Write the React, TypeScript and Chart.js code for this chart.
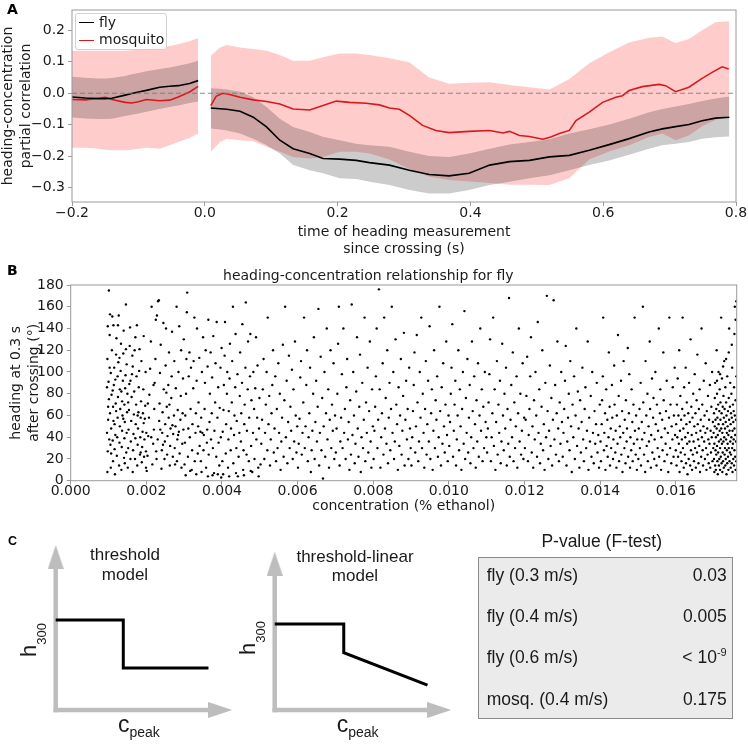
import React, { useEffect, useRef } from 'react';
import { Chart, registerables } from 'chart.js';

Chart.register(...registerables);

const MPL = 'DejaVu Sans';
const ARIAL = 'Liberation Sans';

// ---------------- Panel A data ----------------
const tPre = [-0.2, -0.18, -0.16, -0.15, -0.14, -0.12, -0.11, -0.10, -0.088, -0.068, -0.053, -0.04, -0.023, -0.01];
const flyPre = [-0.012, -0.015, -0.017, -0.017, -0.016, -0.006, -0.001, 0.004, 0.009, 0.019, 0.022, 0.024, 0.031, 0.040];
const flyPreUpper = [0.052, 0.049, 0.047, 0.047, 0.048, 0.055, 0.060, 0.064, 0.070, 0.077, 0.082, 0.087, 0.095, 0.103];
const flyPreLower = [-0.077, -0.080, -0.082, -0.082, -0.081, -0.072, -0.068, -0.064, -0.059, -0.050, -0.044, -0.039, -0.031, -0.026];
const mosqPre = [-0.020, -0.021, -0.016, -0.013, -0.020, -0.029, -0.031, -0.027, -0.020, -0.024, -0.022, -0.012, 0.004, 0.022];
const mosqPreUpper = [0.135, 0.135, 0.135, 0.135, 0.135, 0.135, 0.136, 0.138, 0.141, 0.145, 0.150, 0.155, 0.165, 0.175];
const mosqPreLower = [-0.173, -0.173, -0.176, -0.179, -0.181, -0.181, -0.179, -0.176, -0.173, -0.176, -0.165, -0.155, -0.142, -0.128];

const tPost = [0.009, 0.023, 0.033, 0.053, 0.073, 0.093, 0.113, 0.133, 0.158, 0.178, 0.203, 0.228, 0.248, 0.278, 0.308, 0.338, 0.368, 0.398, 0.429, 0.459, 0.489, 0.519, 0.549, 0.579, 0.609, 0.639, 0.669, 0.689, 0.709, 0.729, 0.749, 0.769, 0.79];
const flyPost = [-0.047, -0.049, -0.051, -0.057, -0.076, -0.107, -0.149, -0.176, -0.191, -0.207, -0.209, -0.213, -0.220, -0.228, -0.244, -0.258, -0.262, -0.254, -0.228, -0.217, -0.213, -0.202, -0.197, -0.181, -0.163, -0.144, -0.123, -0.113, -0.106, -0.099, -0.087, -0.079, -0.076];
const flyPostUpper = [0.016, 0.014, 0.012, 0.005, -0.013, -0.044, -0.081, -0.107, -0.123, -0.138, -0.149, -0.160, -0.165, -0.170, -0.186, -0.199, -0.202, -0.191, -0.176, -0.163, -0.155, -0.146, -0.128, -0.114, -0.099, -0.081, -0.060, -0.050, -0.042, -0.034, -0.025, -0.017, -0.010];
const flyPostLower = [-0.112, -0.115, -0.118, -0.128, -0.144, -0.165, -0.191, -0.228, -0.244, -0.254, -0.270, -0.272, -0.281, -0.291, -0.307, -0.318, -0.318, -0.307, -0.291, -0.281, -0.270, -0.260, -0.244, -0.228, -0.213, -0.195, -0.176, -0.165, -0.160, -0.155, -0.144, -0.140, -0.137];
const mosqPostUpper = [0.119, 0.145, 0.153, 0.145, 0.140, 0.135, 0.121, 0.103, 0.103, 0.114, 0.126, 0.126, 0.121, 0.111, 0.098, 0.050, 0.030, 0.033, 0.035, 0.026, 0.019, 0.012, 0.045, 0.095, 0.130, 0.161, 0.176, 0.180, 0.159, 0.172, 0.200, 0.225, 0.228];
const mosqPostLower = [-0.186, -0.155, -0.144, -0.149, -0.152, -0.170, -0.186, -0.202, -0.207, -0.202, -0.186, -0.186, -0.191, -0.210, -0.240, -0.265, -0.275, -0.280, -0.285, -0.290, -0.290, -0.291, -0.270, -0.210, -0.185, -0.165, -0.139, -0.128, -0.149, -0.134, -0.105, -0.085, -0.070];

const tMosqPost = [0.009, 0.017, 0.027, 0.036, 0.053, 0.073, 0.093, 0.113, 0.133, 0.158, 0.178, 0.198, 0.218, 0.243, 0.263, 0.278, 0.293, 0.308, 0.328, 0.348, 0.368, 0.398, 0.429, 0.449, 0.459, 0.474, 0.489, 0.509, 0.521, 0.534, 0.549, 0.559, 0.579, 0.599, 0.619, 0.629, 0.639, 0.659, 0.684, 0.694, 0.709, 0.729, 0.749, 0.764, 0.779, 0.789];
const mosqPost = [-0.039, -0.010, 0.000, -0.003, -0.0125, -0.021, -0.026, -0.034, -0.050, -0.053, -0.039, -0.025, -0.029, -0.032, -0.037, -0.047, -0.051, -0.070, -0.102, -0.118, -0.125, -0.121, -0.118, -0.126, -0.121, -0.134, -0.137, -0.146, -0.139, -0.128, -0.118, -0.087, -0.060, -0.029, -0.013, -0.008, 0.0085, 0.021, 0.028, 0.024, 0.005, 0.019, 0.047, 0.066, 0.084, 0.077];

const aXTicks = [-0.2, 0, 0.2, 0.4, 0.6, 0.8];
const aYTicks = [-0.3, -0.2, -0.1, 0, 0.1, 0.2];
const zeroLine = [-0.2, 0.8];

// ---------------- Panel B data (x in 1e-5 % ethanol, y in degrees) ----------------
const scatter1 = "97 8 98 27 96 44 99 56 101 75 100 91 97 112 103 134 98 142 101 175 104 153 106 12 105 33 107 48 104 62 108 79 106 99 109 120 110 151 112 18 111 37 113 55 112 68 114 88 115 104 113 143 117 6 116 29 118 42 119 71 118 93 120 116 121 131 122 23 123 40 124 58 125 77 124 96 126 109 127 152 128 14 129 35 130 50 131 66 130 84 132 101 133 126 134 10 135 31 136 46 137 60 136 73 138 92 139 117 140 138 141 21 142 39 143 54 142 70 144 85 145 97 146 162 147 26 148 44 149 63 150 80 148 107 146 121 143 16 139 57 134 82 129 113 125 143 120 64 116 52 111 83 107 25 102 38 99 68 96 86 103 104";
const scatter2 = "151 12 152 30 153 47 154 65 155 89 156 124 157 141 158 20 159 36 160 55 161 77 162 98 163 115 164 8 165 28 166 43 167 61 168 82 169 120 170 20 171 39 172 52 173 70 174 96 175 143 176 14 177 33 178 48 179 63 180 86 181 101 182 121 183 24 184 40 185 58 186 73 187 110 188 17 189 31 190 45 191 62 192 84 193 133 194 22 195 38 196 57 197 69 198 100 199 27 200 44 152 72 158 92 164 105 171 132 177 60 185 26 193 53 199 12";
const scatter3 = "201 9 203 23 205 41 207 58 208 79 210 103 212 128 214 160 216 15 218 34 220 47 221 66 222 90 224 112 225 148 227 20 228 152 230 38 231 165 233 166 234 55 235 71 236 99 238 125 240 11 241 28 242 44 243 63 245 145 246 84 248 20 249 36 250 52 251 106 252 140 254 68 255 24 256 41 258 88 259 58 260 118 262 14 263 32 264 48 266 76 267 96 268 137 270 22 271 43 273 60 274 110 275 30 277 50 278 85 280 160 281 18 282 38 283 65 285 100 286 45 287 142 288 25 290 56 291 78 292 120 293 12 295 34 296 62 297 94 298 47 299 130 204 71 213 40 219 88 226 27 237 47 244 33 253 81 261 70 269 51 276 15 284 42";
const scatter4 = "301 15 302 35 303 60 305 80 306 112 307 155 308 173 310 22 311 48 312 96 314 118 315 40 317 66 318 104 320 10 321 28 322 52 324 85 325 110 327 150 328 18 330 44 331 62 333 92 334 140 336 25 337 50 338 72 340 113 341 32 343 45 344 18 345 58 347 100 348 44 350 132 351 28 352 42 354 66 355 90 357 120 358 12 360 35 361 47 362 105 364 148 365 24 367 54 368 80 370 118 371 38 373 62 374 95 376 30 377 133 379 7 380 46 382 72 383 108 385 22 386 146 388 58 390 86 391 35 393 14 394 67 396 104 397 40 399 122 304 5 316 9 332 6 346 8 363 4 375 5 389 6 398 3";
const scatter5 = "401 18 402 45 404 65 405 88 407 115 408 146 410 25 411 52 413 80 414 100 416 12 417 38 418 64 420 94 421 126 423 28 424 48 426 72 427 110 429 160 430 16 432 42 433 60 435 86 436 135 438 30 439 55 441 98 442 4 444 22 446 44 447 78 448 118 450 36 451 62 453 90 454 144 456 10 457 28 459 52 460 70 462 104 463 164 465 24 466 46 468 84 469 128 471 18 472 58 474 96 475 135 477 32 478 74 480 8 482 44 483 100 485 66 486 20 488 85 490 132 491 38 493 58 494 106 496 12 498 48 499 76 403 6 419 4 437 7 458 5 476 9 497 4";
const scatter6 = "502 15 504 34 506 56 508 84 510 112 512 20 514 44 516 70 518 100 520 28 521 150 523 52 525 78 527 14 529 38 531 62 533 88 535 120 537 26 539 48 541 96 543 18 545 66 547 30 549 108 551 44 553 80 555 10 557 36 559 58 561 125 563 22 565 74 567 160 569 40 571 92 573 16 575 54 577 115 579 30 581 68 583 46 585 102 587 20 589 84 591 36 593 128 595 60 597 26 599 50";
const scatter7 = "601 12 603 34 605 57 607 95 609 110 611 24 613 44 615 72 617 150 619 30 621 50 623 88 625 120 627 18 629 40 631 62 633 104 635 8 637 28 639 46 641 80 643 132 645 20 647 54 649 92 651 36 653 68 655 158 657 14 659 44 661 114 663 28 665 76 667 2 669 50 671 100 673 22 675 62 677 140 679 38 681 84 683 12 685 56 687 120 689 30 691 70 693 46 695 108 697 20 699 60";
const scatter8 = "701 26 703 48 705 80 707 126 709 160 711 14 713 36 715 58 717 98 719 30 721 140 723 44 725 66 727 20 729 86 731 112 733 38 735 54 737 10 739 74 741 24 743 162 745 42 747 100 749 60 751 16 753 34 755 82 757 132 759 48 761 22 763 68 765 116 767 8 769 40 771 90 773 30 775 56 777 150 779 18 781 72 783 44 785 104 787 26 789 64 791 128 793 36 795 12 797 84 799 50";
const scatter9 = "801 20 803 46 805 68 807 96 809 140 811 30 813 56 815 176 817 84 819 12 821 40 823 62 825 108 827 24 829 150 831 48 833 76 835 34 837 120 839 16 841 58 843 90 845 28 847 66 849 160 851 44 853 100 855 20 857 36 859 130 861 70 863 52 865 10 867 86 869 32 871 60 873 112 875 24 877 46 879 78 881 136 883 14 885 56 887 92 889 38 891 66 893 20 895 104 897 48 899 30";
const scatter10 = "901 14 903 40 905 64 907 88 909 118 911 26 913 50 915 134 917 72 919 18 921 36 923 100 925 58 927 150 929 30 931 80 933 44 935 12 937 66 939 110 941 24 943 52 945 92 947 36 949 142 951 20 953 62 955 84 957 10 959 46 961 120 963 30 965 74 967 56 969 96 971 22 973 40 975 160 977 64 979 14 981 86 983 34 985 108 987 50 989 26 991 70 993 128 995 42 997 18 999 60";
const scatter11 = "1001 32 1003 54 1005 80 1007 104 1009 144 1011 22 1013 46 1015 70 1017 92 1019 14 1021 38 1023 60 1025 120 1027 28 1029 84 1031 50 1033 10 1035 66 1037 100 1039 34 1041 156 1043 20 1045 76 1047 44 1049 112 1051 26 1053 58 1055 88 1057 16 1059 40 1061 128 1063 64 1065 30 1067 96 1069 52 1071 12 1073 74 1075 36 1077 108 1079 22 1081 60 1083 140 1085 46 1087 84 1089 18 1091 68 1093 30 1095 100 1097 54 1099 40";
const scatter12 = "1101 26 1103 48 1105 72 1107 98 1109 130 1111 18 1113 40 1115 62 1117 150 1119 32 1121 84 1123 10 1125 54 1127 110 1129 24 1131 70 1133 44 1135 92 1137 16 1139 36 1141 126 1143 60 1145 28 1147 80 1149 48 1151 104 1153 14 1155 66 1157 34 1159 168 1161 22 1163 56 1165 88 1167 40 1169 118 1171 18 1173 72 1175 30 1177 50 1179 96 1181 12 1183 62 1185 140 1187 36 1189 80 1191 24 1193 46 1195 108 1197 20 1199 58";
const scatter13 = "1201 30 1203 56 1205 78 1207 114 1209 18 1211 42 1213 66 1215 96 1217 132 1219 26 1221 50 1223 12 1225 74 1227 38 1229 100 1231 60 1233 22 1235 146 1237 44 1239 84 1241 16 1243 34 1245 68 1247 120 1249 28 1251 52 1253 10 1255 90 1257 40 1259 170 1261 64 1263 20 1265 46 1267 106 1269 32 1271 76 1273 14 1275 56 1277 166 1279 38 1281 88 1283 24 1285 62 1287 128 1289 48 1291 18 1293 72 1295 34 1297 100 1299 54";
const scatter14 = "1301 22 1303 44 1305 66 1307 92 1309 124 1311 14 1313 36 1315 58 1317 80 1319 28 1321 110 1323 50 1325 8 1327 70 1329 40 1331 96 1333 20 1335 60 1337 140 1339 32 1341 82 1343 48 1345 12 1347 74 1349 26 1351 54 1353 104 1355 38 1357 18 1359 66 1361 86 1363 30 1365 46 1367 128 1369 10 1371 58 1373 36 1375 78 1377 22 1379 100 1381 44 1383 16 1385 64 1387 34 1389 52 1391 90 1393 26 1395 42 1397 12 1399 70";
const scatter15 = "1401 36 1402 18 1404 52 1405 74 1407 96 1408 150 1410 28 1411 44 1413 62 1414 10 1416 84 1417 32 1419 56 1420 22 1422 40 1423 118 1425 68 1426 14 1428 48 1429 30 1431 88 1432 58 1434 20 1435 38 1437 106 1438 70 1440 26 1441 46 1443 12 1444 60 1446 34 1447 134 1449 78 1450 18 1452 50 1453 40 1455 92 1456 24 1458 64 1459 8 1461 44 1462 110 1464 30 1465 56 1467 16 1468 74 1470 36 1471 48 1473 122 1474 22 1476 62 1477 98 1479 12 1480 40 1482 28 1483 84 1485 54 1486 18 1488 70 1489 34 1491 150 1492 46 1494 24 1495 60 1497 10 1498 38";
const scatter16 = "1501 20 1502 48 1504 66 1505 30 1507 90 1508 14 1510 54 1511 38 1513 160 1514 72 1516 24 1517 44 1519 8 1520 110 1522 60 1523 32 1525 80 1526 18 1528 50 1529 36 1531 128 1532 66 1534 12 1535 42 1537 94 1538 26 1540 58 1541 76 1543 20 1544 38 1546 100 1547 52 1549 14 1550 70 1552 30 1553 46 1555 140 1556 22 1558 62 1559 84 1561 10 1562 40 1564 56 1565 28 1567 118 1568 74 1570 18 1571 48 1573 34 1574 64 1576 92 1577 24 1579 44 1580 8 1582 58 1583 150 1585 30 1586 70 1588 16 1589 50 1591 38 1592 86 1594 22 1595 60 1597 104 1598 42";
const scatter17 = "1600 28 1601 52 1602 14 1603 70 1604 40 1605 94 1606 22 1607 60 1608 34 1609 120 1610 8 1611 46 1612 78 1613 26 1614 56 1615 18 1616 38 1617 66 1618 150 1619 30 1620 48 1621 12 1622 86 1623 60 1624 24 1625 40 1626 104 1627 16 1628 52 1629 72 1630 34 1631 6 1632 44 1633 62 1634 20 1635 90 1636 36 1637 54 1638 14 1639 130 1640 28 1641 68 1642 42 1643 10 1644 58 1645 24 1646 80 1647 36 1648 18 1649 50 1650 98 1651 30 1652 62 1653 12 1654 44 1655 74 1656 26 1657 116 1658 52 1659 38 1660 16 1661 66 1662 32 1663 84 1664 8 1665 46 1666 56 1667 22 1668 140 1669 40 1670 70 1671 28 1672 14 1673 50 1674 92 1675 36 1676 60 1677 20 1678 44 1679 108 1680 30 1681 10 1682 64 1683 48 1684 24 1685 78 1686 38 1687 16 1688 56 1689 34 1690 88 1691 12 1692 46 1693 26 1694 68 1695 40 1696 100 1697 18 1698 54 1699 30";
const scatter18 = "1700 44 1701 20 1701 62 1702 8 1702 34 1703 76 1703 50 1704 14 1704 90 1705 28 1705 56 1706 40 1706 10 1707 66 1707 24 1708 48 1708 120 1709 32 1709 80 1710 18 1710 58 1711 6 1711 42 1712 70 1712 26 1713 52 1713 100 1714 14 1714 36 1715 64 1715 20 1716 46 1716 84 1717 30 1717 10 1718 56 1718 72 1719 38 1719 22 1720 150 1720 48 1721 16 1721 62 1722 34 1722 94 1723 8 1723 44 1724 26 1724 68 1725 52 1725 18 1726 36 1726 78 1727 12 1727 58 1728 40 1728 110 1729 24 1729 66 1730 30 1730 48 1731 14 1731 86 1732 54 1732 20 1733 38 1733 72 1734 6 1734 60 1735 28 1735 44 1736 96 1736 16 1737 50 1737 34 1738 64 1738 22 1739 10 1739 42 1740 76 1740 30 1741 56 1741 140 1742 18 1742 46 1743 68 1743 26 1744 36 1744 90 1745 12 1745 52 1746 62 1746 24 1747 40 1747 80 1748 16 1748 58 1749 30 1749 104 1750 46 1750 8 1751 70 1751 34 1752 20 1752 54 1753 64 1753 38 1754 14 1754 86 1755 48 1755 28 1756 160 1756 60 1757 22 1757 42 1758 74 1758 10 1759 36 1759 56 1760 18 1760 96 1760 165 1758 148 1755 135 1748 125 1740 118 1733 112 1725 105 1717 98 1709 92";

const flyScatterSegments = [scatter1, scatter2, scatter3, scatter4, scatter5, scatter6, scatter7, scatter8, scatter9, scatter10, scatter11, scatter12, scatter13, scatter14, scatter15, scatter16, scatter17, scatter18];

const bXTicks = [0, 0.002, 0.004, 0.006, 0.008, 0.010, 0.012, 0.014, 0.016];
const bYTicks = [0, 20, 40, 60, 80, 100, 120, 140, 160, 180];

// ---------------- Panel C data (schematic units) ----------------
const thresholdX = [0, 2.3, 2.3, 5.2];
const thresholdY = [3.0, 3.0, 1.4, 1.4];
const thresholdTips = [6.0, 5.5];
const thrLinearX = [0, 2.35, 2.35, 5.2];
const thrLinearY = [2.87, 2.87, 1.91, 0.83];
const thrLinearTips = [6.0, 5.28];

const pRowLabels = ['fly (0.3 m/s)', 'fly (0.4 m/s)', 'fly (0.6 m/s)', 'mosq. (0.4 m/s)'];
const pRowValues = ['0.03', '0.005', '< 10|-9', '0.175'];

// ---------------- helpers ----------------
const RED = 'rgb(218,24,28)';
const FLY_FILL = 'rgba(0,0,0,0.2)';
const MOSQ_FILL = 'rgba(255,0,0,0.2)';
const SPINE = '#9a9a9a';
const TXT = '#1a1a1a';

const pts = (xs: number[], ys: number[]) => xs.map((x, i) => ({ x, y: ys[i] }));
const fmt = (v: number, d: number) => v.toFixed(d).replace('-', '\u2212');

function parseScatter(segs: string[]) {
  const out: { x: number; y: number }[] = [];
  segs.forEach((s) => {
    const n = s.trim().split(/\s+/).map(Number);
    for (let i = 0; i + 1 < n.length; i += 2) out.push({ x: n[i] / 1e5, y: n[i + 1] });
  });
  return out;
}

const framePlugin = {
  id: 'frame',
  afterDatasetsDraw(chart: any) {
    const { ctx, chartArea } = chart;
    const { left, top, right, bottom } = chartArea;
    ctx.save();
    ctx.strokeStyle = SPINE;
    ctx.lineWidth = 1;
    ctx.strokeRect(left, top, right - left, bottom - top);
    ctx.restore();
  },
};

const tickFont = { family: MPL, size: 14, lineHeight: 1 };
const titleFont = { family: MPL, size: 14, lineHeight: 1.25, weight: 'normal' };
const gridOpts = { display: true, drawOnChartArea: false, drawTicks: true, tickLength: 4, color: SPINE, lineWidth: 1 };

function makeAxis(opts: any) {
  const { ticks, decimals, size, horizontal, title, titlePad, min, max } = opts;
  return {
    type: 'linear',
    min,
    max,
    afterBuildTicks: (a: any) => {
      a.ticks = ticks.map((v: number) => ({ value: v }));
    },
    afterFit: (s: any) => {
      if (horizontal) s.height = size;
      else s.width = size;
    },
    ticks: {
      callback: (v: number) => fmt(v, decimals),
      font: tickFont,
      color: TXT,
      padding: horizontal ? 0 : 3,
      maxRotation: 0,
      autoSkip: false,
    },
    grid: gridOpts,
    border: { display: false },
    title: { display: true, text: title, font: titleFont, color: TXT, padding: titlePad },
  };
}

function panelAConfig(): any {
  const line = (xs: number[], ys: number[], color: string) => ({
    data: pts(xs, ys), borderColor: color, borderWidth: 1.6, pointRadius: 0, tension: 0, fill: false,
  });
  const upper = (xs: number[], ys: number[], color: string) => ({
    data: pts(xs, ys), borderWidth: 0, borderColor: 'rgba(0,0,0,0)', backgroundColor: color, pointRadius: 0, tension: 0, fill: '+1',
  });
  const lower = (xs: number[], ys: number[]) => ({
    data: pts(xs, ys), borderWidth: 0, borderColor: 'rgba(0,0,0,0)', pointRadius: 0, tension: 0, fill: false,
  });
  return {
    type: 'line',
    data: {
      datasets: [
        { data: zeroLine.map((x) => ({ x, y: 0 })), borderColor: 'rgba(120,120,120,0.85)', borderWidth: 1.2, borderDash: [5, 3], pointRadius: 0, fill: false },
        line(tPre, flyPre, '#000'),
        line(tPost, flyPost, '#000'),
        line(tPre, mosqPre, RED),
        line(tMosqPost, mosqPost, RED),
        upper(tPre, flyPreUpper, FLY_FILL), lower(tPre, flyPreLower),
        upper(tPost, flyPostUpper, FLY_FILL), lower(tPost, flyPostLower),
        upper(tPre, mosqPreUpper, MOSQ_FILL), lower(tPre, mosqPreLower),
        upper(tPost, mosqPostUpper, MOSQ_FILL), lower(tPost, mosqPostLower),
      ],
    },
    options: {
      animation: false, responsive: false, events: [],
      layout: { padding: { left: 0, right: 12, top: 9, bottom: 0 } },
      plugins: { legend: { display: false }, tooltip: { enabled: false } },
      scales: {
        x: makeAxis({ ticks: aXTicks, decimals: 1, size: 60, horizontal: true, min: -0.2, max: 0.8,
          title: ['time of heading measurement', 'since crossing (s)'], titlePad: { top: 0, bottom: 3.75 } }),
        y: makeAxis({ ticks: aYTicks, decimals: 1, size: 72, horizontal: false, min: -0.345, max: 0.264,
          title: ['heading-concentration', 'partial correlation'], titlePad: { top: 0, bottom: 0 } }),
      },
    },
    plugins: [framePlugin],
  };
}

function panelBConfig(): any {
  return {
    type: 'scatter',
    data: {
      datasets: [{ data: parseScatter(flyScatterSegments), pointRadius: 1.2, pointBorderWidth: 0, backgroundColor: '#000', borderColor: '#000' }],
    },
    options: {
      animation: false, responsive: false, events: [],
      layout: { padding: { left: 0, right: 11.3, top: 0, bottom: 0 } },
      plugins: {
        legend: { display: false }, tooltip: { enabled: false },
        title: { display: true, text: 'heading-concentration relationship for fly', font: titleFont, color: TXT, padding: { top: 5.25, bottom: 0.25 } },
      },
      scales: {
        x: makeAxis({ ticks: bXTicks, decimals: 3, size: 37.3, horizontal: true, min: 0, max: 0.01761,
          title: 'concentration (% ethanol)', titlePad: { top: 0, bottom: 3.25 } }),
        y: makeAxis({ ticks: bYTicks, decimals: 0, size: 70.7, horizontal: false, min: 0, max: 180,
          title: ['heading at 0.3 s', 'after crossing (\u00b0)'], titlePad: { top: 8, bottom: 0 } }),
      },
    },
    plugins: [framePlugin],
  };
}

function makeHead(color: string) {
  const c = document.createElement('canvas');
  c.width = 16; c.height = 24;
  const g = c.getContext('2d')!;
  g.fillStyle = color;
  g.beginPath(); g.moveTo(8, 0); g.lineTo(16, 24); g.lineTo(0, 24); g.closePath(); g.fill();
  return c;
}

function diagramConfig(xs: number[], ys: number[], tips: number[]): any {
  const AX = '#bdbdbd';
  const head = makeHead(AX);
  const [xTip, yTip] = tips;
  return {
    type: 'scatter',
    data: {
      datasets: [
        { data: pts(xs, ys), showLine: true, borderColor: '#000', borderWidth: 3, pointRadius: 0, borderJoinStyle: 'miter', clip: false },
        { data: [{ x: 0, y: 0 }, { x: 0, y: yTip - 0.6 }], showLine: true, borderColor: AX, borderWidth: 4.5, pointRadius: 0, borderCapStyle: 'square', clip: false },
        { data: [{ x: 0, y: 0 }, { x: xTip - 0.6, y: 0 }], showLine: true, borderColor: AX, borderWidth: 4.5, pointRadius: 0, borderCapStyle: 'square', clip: false },
        { data: [{ x: 0, y: yTip - 0.4 }], pointStyle: head, rotation: 0, pointRadius: 12, clip: false },
        { data: [{ x: xTip - 0.4, y: 0 }], pointStyle: head, rotation: 90, pointRadius: 12, clip: false },
      ],
    },
    options: {
      animation: false, responsive: false, events: [],
      layout: { padding: { left: 55.7, right: 8.3, top: 35, bottom: 34 } },
      plugins: { legend: { display: false }, tooltip: { enabled: false } },
      scales: {
        x: { type: 'linear', display: false, min: 0, max: 6 },
        y: { type: 'linear', display: false, min: 0, max: 5.5 },
      },
    },
  };
}

function ChartBox({ make, left, top, width, height }: { make: () => any; left: number; top: number; width: number; height: number }) {
  const ref = useRef<HTMLCanvasElement>(null);
  useEffect(() => {
    const chart = new Chart(ref.current as HTMLCanvasElement, make());
    return () => chart.destroy();
  }, []);
  return <canvas ref={ref} width={width} height={height} style={{ position: 'absolute', left, top, width, height }} />;
}

function Txt({ x, baseline, size, family = MPL, weight = 'normal', align = 'left', color = TXT, children }: any) {
  const W = 400;
  const left = align === 'left' ? x : align === 'center' ? x - W / 2 : x - W;
  return (
    <div style={{ position: 'absolute', left, top: baseline - 0.846 * size, width: W, textAlign: align, fontFamily: family, fontSize: size, lineHeight: `${size}px`, fontWeight: weight, color, whiteSpace: 'nowrap' }}>
      {children}
    </div>
  );
}

function HLabel({ x, y }: { x: number; y: number }) {
  const size = 22;
  return (
    <div style={{ position: 'absolute', left: x - 0.846 * size, top: y, transformOrigin: '0 0', transform: 'rotate(-90deg)', fontFamily: ARIAL, fontSize: size, lineHeight: `${size}px`, whiteSpace: 'nowrap', color: TXT }}>
      h<span style={{ fontSize: 13, position: 'relative', top: 10 }}>300</span>
    </div>
  );
}

function CPeak({ x }: { x: number }) {
  return (
    <Txt x={x} baseline={732} size={23} family={ARIAL}>
      c<span style={{ fontSize: 14, position: 'relative', top: 5 }}>peak</span>
    </Txt>
  );
}

export default function App() {
  const rowBase = [581.4, 622.8, 664.2, 705.6];
  return (
    <div style={{ position: 'absolute', left: 0, top: 0, width: 748, height: 744, background: '#fff', overflow: 'hidden' }}>
      <ChartBox make={panelAConfig} left={0} top={0} width={748} height={262} />
      <ChartBox make={panelBConfig} left={0} top={262} width={748} height={256} />
      <ChartBox make={() => diagramConfig(thresholdX, thresholdY, thresholdTips)} left={0} top={510} width={245} height={234} />
      <ChartBox make={() => diagramConfig(thrLinearX, thrLinearY, thrLinearTips)} left={218.6} top={510} width={245} height={234} />

      {/* legend A */}
      <div style={{ position: 'absolute', left: 75, top: 13, width: 92, height: 37, border: '1px solid #d0d0d0', borderRadius: 3, background: 'rgba(255,255,255,0.8)', boxSizing: 'border-box' }} />
      <div style={{ position: 'absolute', left: 79, top: 22, width: 15, height: 0, borderTop: '1.6px solid #000' }} />
      <div style={{ position: 'absolute', left: 79, top: 40, width: 15, height: 0, borderTop: `1.6px solid ${RED}` }} />
      <Txt x={99} baseline={27.3} size={14}>fly</Txt>
      <Txt x={99} baseline={44.3} size={14}>mosquito</Txt>

      {/* panel letters */}
      <Txt x={7} baseline={13.5} size={14} weight="bold" color="#000">A</Txt>
      <Txt x={7} baseline={275.3} size={14} weight="bold" color="#000">B</Txt>
      <Txt x={8} baseline={546} size={12.5} family={ARIAL} weight="bold" color="#000">C</Txt>

      {/* panel C schematic labels */}
      <Txt x={125} baseline={560} size={17} family={ARIAL} align="center">threshold</Txt>
      <Txt x={125} baseline={580} size={17} family={ARIAL} align="center">model</Txt>
      <Txt x={355} baseline={562} size={17} family={ARIAL} align="center">threshold-linear</Txt>
      <Txt x={355} baseline={581.5} size={17} family={ARIAL} align="center">model</Txt>
      <HLabel x={36.7} y={657} />
      <HLabel x={255.5} y={655} />
      <CPeak x={118} />
      <CPeak x={336.7} />

      {/* P-value table */}
      <div style={{ position: 'absolute', left: 478, top: 557, width: 255, height: 162, background: '#ebebeb', border: '1px solid #8a8a8a', boxSizing: 'border-box' }} />
      <Txt x={601.7} baseline={548} size={17.5} family={ARIAL} align="center">P-value (F-test)</Txt>
      {pRowLabels.map((lab, i) => (
        <Txt key={'l' + i} x={486.7} baseline={rowBase[i]} size={17.5} family={ARIAL}>{lab}</Txt>
      ))}
      {pRowValues.map((val, i) => {
        const [base, sup] = val.split('|');
        return (
          <Txt key={'v' + i} x={726.7} baseline={rowBase[i]} size={17.5} family={ARIAL} align="right">
            {base}
            {sup ? <span style={{ fontSize: 11, position: 'relative', top: -7 }}>{sup}</span> : null}
          </Txt>
        );
      })}
    </div>
  );
}
